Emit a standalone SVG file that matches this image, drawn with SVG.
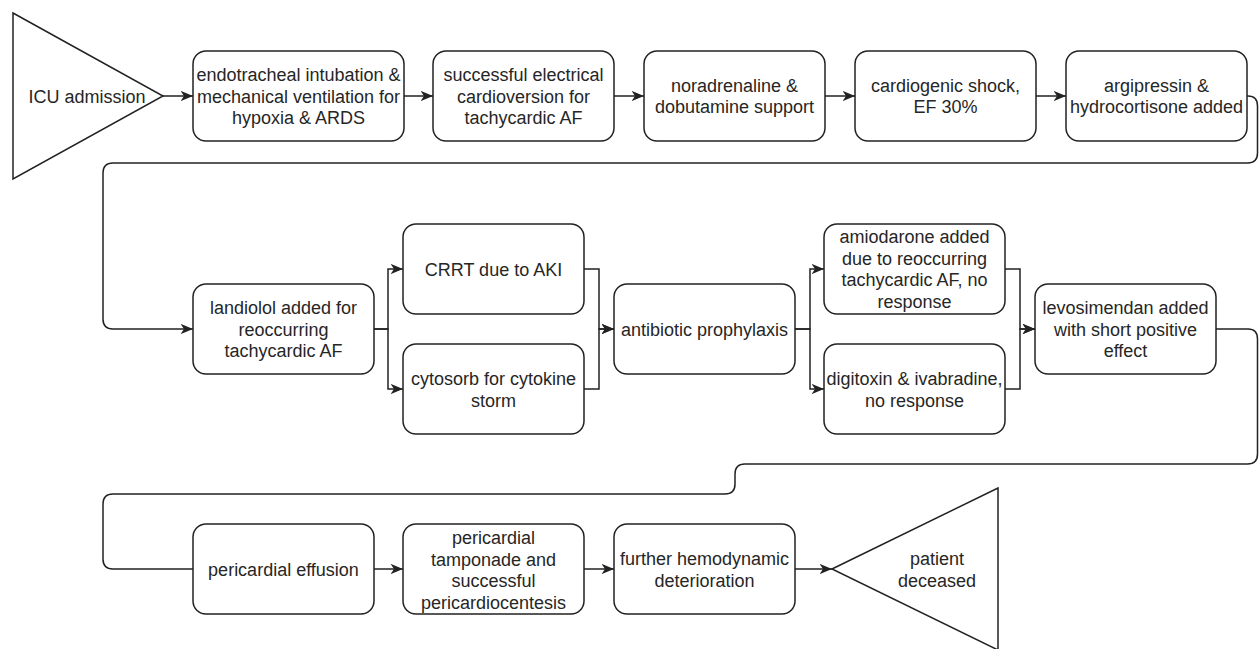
<svg xmlns="http://www.w3.org/2000/svg" width="1259" height="649" viewBox="0 0 1259 649">
<style>
.n rect,.n polygon{fill:#fff;stroke:#222;stroke-width:1.5}
.n text{font-family:"Liberation Sans",Arial,sans-serif;font-size:18px;fill:#262626;text-anchor:middle}
.c path{fill:none;stroke:#222;stroke-width:1.5}
.c .a{marker-end:url(#arr)}
</style>
<defs>
<marker id="arr" markerUnits="userSpaceOnUse" markerWidth="14" markerHeight="12" refX="12.5" refY="6" orient="auto">
<path d="M0,0.8 L12.5,6 L0,11.2 L3.5,6 Z" fill="#222"/>
</marker>
</defs>
<rect width="1259" height="649" fill="#fff"/>
<g class="c">
<path class="a" d="M163,96 H193"/>
<path class="a" d="M404,96 H433"/>
<path class="a" d="M614,96 H644"/>
<path class="a" d="M825,96 H855"/>
<path class="a" d="M1036,96 H1066"/>
<path class="a" d="M1247,96 H1248 Q1257.5,96 1257.5,106 V153 Q1257.5,163 1247.5,163 H113 Q103,163 103,173 V319 Q103,329 113,329 H193"/>
<path class="a" d="M374,329 H388 V269 H403"/>
<path class="a" d="M374,329 H388 V389 H403"/>
<path class="a" d="M584,269 H599 V329 H614"/>
<path class="a" d="M584,389 H599 V329 H614"/>
<path class="a" d="M795,329 H810 V269 H824"/>
<path class="a" d="M795,329 H810 V389 H824"/>
<path class="a" d="M1005,269 H1020 V329 H1035"/>
<path class="a" d="M1005,389 H1020 V329 H1035"/>
<path d="M1216,329 H1248 Q1257.5,329 1257.5,339 V454 Q1257.5,464 1247.5,464 H745 Q735,464 735,474 V484 Q735,494 725,494 H113 Q103,494 103,504 V559 Q103,569 113,569 H193"/>
<path class="a" d="M374,569 H403"/>
<path class="a" d="M584,569 H614"/>
<path class="a" d="M795,569 H832"/>
</g>
<g id="icu" class="n"><polygon points="13,13 163,96 13,179"/><text x="87" y="102.5">ICU admission</text></g>
<g id="intubation" class="n"><rect x="193" y="51" width="211" height="90" rx="13"/><text x="298.5" y="81">endotracheal intubation &amp;</text><text x="298.5" y="102.5">mechanical ventilation for</text><text x="298.5" y="124">hypoxia &amp; ARDS</text></g>
<g id="cardioversion" class="n"><rect x="433" y="51" width="181" height="90" rx="13"/><text x="523.5" y="81">successful electrical</text><text x="523.5" y="102.5">cardioversion for</text><text x="523.5" y="124">tachycardic AF</text></g>
<g id="noradrenaline" class="n"><rect x="644" y="51" width="181" height="90" rx="13"/><text x="734.5" y="91.5">noradrenaline &amp;</text><text x="734.5" y="113">dobutamine support</text></g>
<g id="shock" class="n"><rect x="855" y="51" width="181" height="90" rx="13"/><text x="945.5" y="91.5">cardiogenic shock,</text><text x="945.5" y="113">EF 30%</text></g>
<g id="argipressin" class="n"><rect x="1066" y="51" width="181" height="90" rx="13"/><text x="1156.5" y="91.5">argipressin &amp;</text><text x="1156.5" y="113">hydrocortisone added</text></g>
<g id="landiolol" class="n"><rect x="193" y="284" width="181" height="90" rx="13"/><text x="283.5" y="314">landiolol added for</text><text x="283.5" y="335.5">reoccurring</text><text x="283.5" y="357">tachycardic AF</text></g>
<g id="crrt" class="n"><rect x="403" y="224" width="181" height="90" rx="13"/><text x="493.5" y="275.5">CRRT due to AKI</text></g>
<g id="cytosorb" class="n"><rect x="403" y="344" width="181" height="90" rx="13"/><text x="493.5" y="385">cytosorb for cytokine</text><text x="493.5" y="406.5">storm</text></g>
<g id="antibiotic" class="n"><rect x="614" y="284" width="181" height="90" rx="13"/><text x="704.5" y="335.5">antibiotic prophylaxis</text></g>
<g id="amiodarone" class="n"><rect x="824" y="224" width="181" height="90" rx="13"/><text x="914.5" y="243">amiodarone added</text><text x="914.5" y="264.5">due to reoccurring</text><text x="914.5" y="286">tachycardic AF, no</text><text x="914.5" y="307.5">response</text></g>
<g id="digitoxin" class="n"><rect x="824" y="344" width="181" height="90" rx="13"/><text x="914.5" y="385">digitoxin &amp; ivabradine,</text><text x="914.5" y="406.5">no response</text></g>
<g id="levosimendan" class="n"><rect x="1035" y="284" width="181" height="90" rx="13"/><text x="1125.5" y="314">levosimendan added</text><text x="1125.5" y="335.5">with short positive</text><text x="1125.5" y="357">effect</text></g>
<g id="effusion" class="n"><rect x="193" y="524" width="181" height="90" rx="13"/><text x="283.5" y="575.5">pericardial effusion</text></g>
<g id="tamponade" class="n"><rect x="403" y="524" width="181" height="90" rx="13"/><text x="493.5" y="544">pericardial</text><text x="493.5" y="565.5">tamponade and</text><text x="493.5" y="587">successful</text><text x="493.5" y="608.5">pericardiocentesis</text></g>
<g id="deterioration" class="n"><rect x="614" y="524" width="181" height="90" rx="13"/><text x="704.5" y="565">further hemodynamic</text><text x="704.5" y="586.5">deterioration</text></g>
<g id="deceased" class="n"><polygon points="832,569 998,488 998,650"/><text x="937" y="565">patient</text><text x="937" y="586.5">deceased</text></g>
</svg>
